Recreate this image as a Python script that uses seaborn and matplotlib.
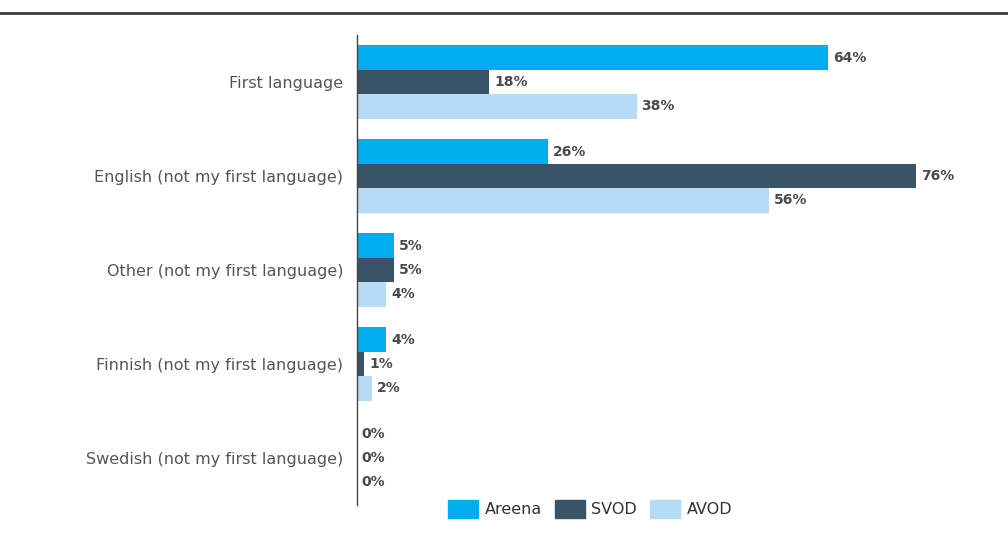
import matplotlib
matplotlib.use("Agg")
import matplotlib.pyplot as plt
from matplotlib.lines import Line2D
import pandas as pd
import seaborn as sns

categories = [
    "First language",
    "English (not my first language)",
    "Other (not my first language)",
    "Finnish (not my first language)",
    "Swedish (not my first language)",
]
series = ["Areena", "SVOD", "AVOD"]
areena = [64, 26, 5, 4, 0]
svod = [18, 76, 5, 1, 0]
avod = [38, 56, 4, 2, 0]

colors = {"Areena": "#00AEEF", "SVOD": "#3A5467", "AVOD": "#B5DCF4"}

df = pd.DataFrame({
    "category": categories * 3,
    "service": [s for s in series for _ in categories],
    "share": areena + svod + avod,
})

sns.set_theme(style="white")
plt.rcParams["font.family"] = ["DejaVu Sans"]

fig = plt.figure(figsize=(10.08, 5.35), dpi=100)
ax = fig.add_axes([357 / 1008, 1 - 505 / 535, (1000 - 357) / 1008, (505 - 35) / 535])

sns.barplot(data=df, y="category", x="share", hue="service", order=categories,
            hue_order=series, palette=colors, orient="h", width=0.78,
            saturation=1, linewidth=0, ax=ax, legend=False)

ax.set_xlim(0, 87.4)
ax.set_ylim(4.5, -0.5)
ax.set_xlabel("")
ax.set_ylabel("")
ax.set_xticks([])
ax.tick_params(axis="y", length=0, pad=10, labelsize=11.5, labelcolor="#555555")
for side in ["top", "right", "bottom"]:
    ax.spines[side].set_visible(False)
ax.spines["left"].set_color("#444444")
ax.spines["left"].set_linewidth(1.0)
ax.spines["left"].set_zorder(5)

for cont in ax.containers:
    for bar in cont:
        val = bar.get_width()
        ax.annotate(f"{val:.0f}%", (val, bar.get_y() + bar.get_height() / 2),
                    xytext=(3.5, 0), textcoords="offset points", va="center",
                    ha="left", fontsize=10, fontweight="bold", color="#4a4a4a")

# Rule across the top of the page
fig.add_artist(Line2D([0, 1], [1 - 13 / 535, 1 - 13 / 535], color="#3a3a3a",
                      linewidth=2, transform=fig.transFigure))

handles = [plt.Rectangle((0, 0), 1, 1, color=colors[s]) for s in series]
fig.legend(handles, series, loc="center", bbox_to_anchor=(590 / 1008, 1 - 509 / 535),
           ncol=3, frameon=False, fontsize=11.5, handlelength=1.9, handleheight=1.3,
           columnspacing=0.8, handletextpad=0.4, labelcolor="#333333")

fig.savefig("out.png", dpi=100, facecolor="white")
